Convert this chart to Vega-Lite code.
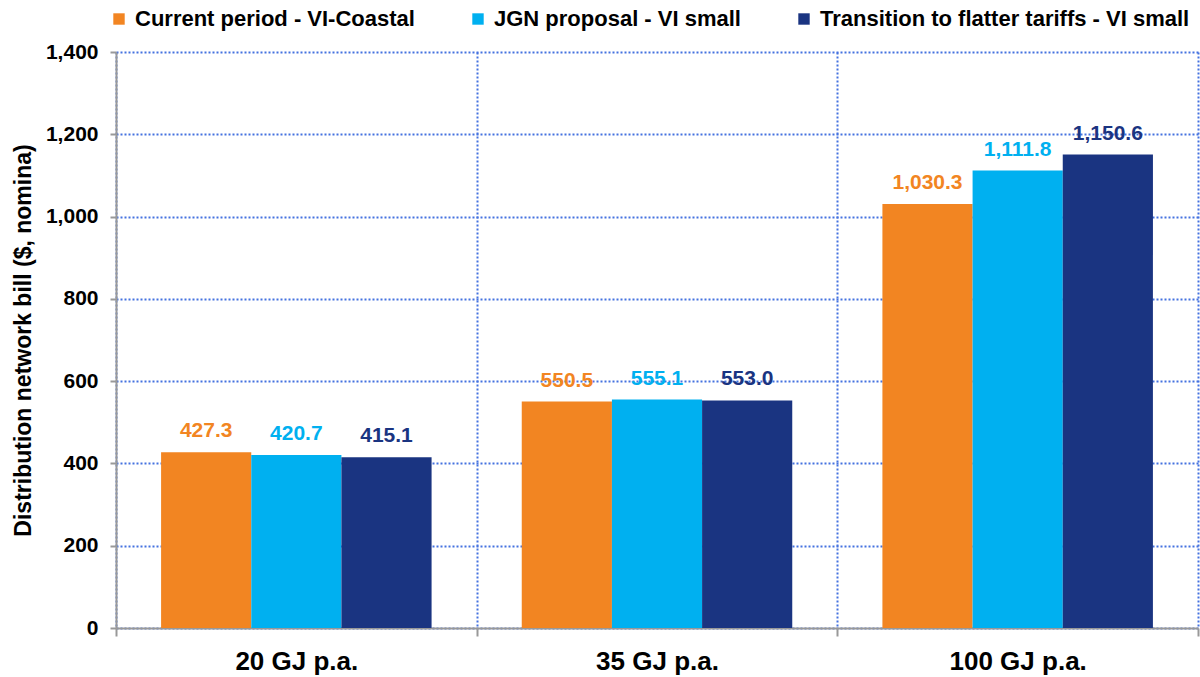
{
  "$schema": "https://vega.github.io/schema/vega-lite/v6.json",
  "width": 1082,
  "height": 576,
  "autosize": {"type": "none"},
  "padding": {"left": 116, "top": 52, "right": 2, "bottom": 49},
  "background": "white",
  "config": {
    "view": {"stroke": null},
    "font": "Liberation Sans",
    "axis": {
      "labelFont": "Liberation Sans",
      "titleFont": "Liberation Sans",
      "labelFontWeight": "bold",
      "titleFontWeight": "bold",
      "labelColor": "black",
      "titleColor": "black",
      "domainColor": "#999999",
      "domainWidth": 2,
      "tickColor": "#999999",
      "tickWidth": 2,
      "gridColor": "#4472E0",
      "gridDash": [2, 2],
      "gridWidth": 2,
      "gridOpacity": 1
    }
  },
  "data": {
    "values": [
      {"size": "20 GJ p.a.", "series": "Current period - VI-Coastal", "value": 427.3},
      {"size": "20 GJ p.a.", "series": "JGN proposal - VI small", "value": 420.7},
      {"size": "20 GJ p.a.", "series": "Transition to flatter tariffs - VI small", "value": 415.1},
      {"size": "35 GJ p.a.", "series": "Current period - VI-Coastal", "value": 550.5},
      {"size": "35 GJ p.a.", "series": "JGN proposal - VI small", "value": 555.1},
      {"size": "35 GJ p.a.", "series": "Transition to flatter tariffs - VI small", "value": 553.0},
      {"size": "100 GJ p.a.", "series": "Current period - VI-Coastal", "value": 1030.3},
      {"size": "100 GJ p.a.", "series": "JGN proposal - VI small", "value": 1111.8},
      {"size": "100 GJ p.a.", "series": "Transition to flatter tariffs - VI small", "value": 1150.6}
    ]
  },
  "encoding": {
    "x": {
      "field": "size",
      "type": "nominal",
      "sort": ["20 GJ p.a.", "35 GJ p.a.", "100 GJ p.a."],
      "scale": {"paddingInner": 0, "paddingOuter": 0},
      "axis": {
        "title": null,
        "labelAngle": 0,
        "labelFontSize": 26,
        "labelPadding": 12,
        "tickBand": "extent",
        "tickSize": 8,
        "grid": true
      }
    },
    "xOffset": {
      "field": "series",
      "type": "nominal",
      "sort": ["Current period - VI-Coastal", "JGN proposal - VI small", "Transition to flatter tariffs - VI small"],
      "scale": {"paddingInner": 0, "paddingOuter": 0.5}
    },
    "y": {
      "field": "value",
      "type": "quantitative",
      "scale": {"domain": [0, 1400], "nice": false},
      "axis": {
        "title": "Distribution network bill ($, nomina)",
        "titleFontSize": 23,
        "titlePadding": 10,
        "labelFontSize": 21,
        "labelPadding": 12,
        "values": [0, 200, 400, 600, 800, 1000, 1200, 1400],
        "format": ",d",
        "tickSize": 6,
        "grid": true
      }
    }
  },
  "layer": [
    {
      "mark": {"type": "bar"},
      "encoding": {
        "color": {
          "field": "series",
          "type": "nominal",
          "scale": {
            "domain": ["Current period - VI-Coastal", "JGN proposal - VI small", "Transition to flatter tariffs - VI small"],
            "range": ["#F28522", "#00B0F0", "#1A3481"]
          },
          "legend": {
            "title": null,
            "orient": "none",
            "legendX": -8,
            "legendY": -44,
            "direction": "horizontal",
            "symbolType": "square",
            "symbolSize": 130,
            "symbolStrokeWidth": 0,
            "labelFont": "Liberation Sans",
            "labelFontSize": 22,
            "labelFontWeight": "bold",
            "labelColor": "black",
            "labelOffset": 5,
            "columnPadding": 52,
            "labelLimit": 600
          }
        }
      }
    },
    {
      "mark": {"type": "text", "baseline": "alphabetic", "dy": -15, "fontSize": 21, "fontWeight": "bold", "font": "Liberation Sans"},
      "encoding": {
        "text": {"field": "value", "type": "quantitative", "format": ",.1f"},
        "color": {
          "field": "series",
          "type": "nominal",
          "scale": {
            "domain": ["Current period - VI-Coastal", "JGN proposal - VI small", "Transition to flatter tariffs - VI small"],
            "range": ["#F28522", "#00B0F0", "#1A3481"]
          },
          "legend": null
        }
      }
    }
  ],
  "resolve": {"legend": {"color": "independent"}}
}
